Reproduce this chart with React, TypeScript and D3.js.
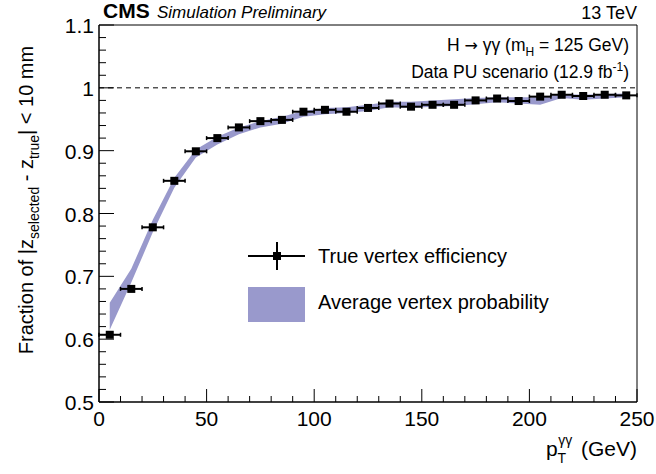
import * as d3 from "d3";
import * as React from "react";

// bin centres in pT (GeV)
const ptBins = [5, 15, 25, 35, 45, 55, 65, 75, 85, 95, 105, 115, 125, 135, 145, 155, 165, 175, 185, 195, 205, 215, 225, 235, 245];
// true vertex efficiency
const trueEff = [0.607, 0.68, 0.778, 0.852, 0.899, 0.92, 0.937, 0.947, 0.949, 0.962, 0.965, 0.962, 0.968, 0.975, 0.97, 0.973, 0.973, 0.98, 0.983, 0.979, 0.986, 0.989, 0.987, 0.989, 0.988];
const trueErr = [0.003, 0.003, 0.003, 0.003, 0.003, 0.002, 0.002, 0.002, 0.002, 0.002, 0.002, 0.002, 0.002, 0.002, 0.002, 0.002, 0.002, 0.002, 0.004, 0.002, 0.002, 0.002, 0.006, 0.005, 0.002];
// average vertex probability band
const bandLow = [0.615, 0.69, 0.77, 0.841, 0.889, 0.91, 0.926, 0.937, 0.943, 0.954, 0.958, 0.96, 0.963, 0.969, 0.968, 0.97, 0.971, 0.974, 0.977, 0.975, 0.973, 0.984, 0.981, 0.983, 0.985];
const bandHigh = [0.658, 0.712, 0.79, 0.857, 0.902, 0.922, 0.937, 0.947, 0.954, 0.963, 0.968, 0.969, 0.973, 0.978, 0.978, 0.98, 0.982, 0.984, 0.985, 0.985, 0.985, 0.99, 0.989, 0.99, 0.991];

const xTicks = [0, 50, 100, 150, 200, 250];
const yTicks = [0.5, 0.6, 0.7, 0.8, 0.9, 1, 1.1];

const FONT = "'Liberation Sans', Arial, Helvetica, sans-serif";
const BAND = "#9999cc";

export default function App() {
  const width = 656;
  const height = 474;
  const left = 99;
  const right = 637;
  const top = 25;
  const bottom = 402;

  const x = d3.scaleLinear().domain([0, 250]).range([left, right]);
  const y = d3.scaleLinear().domain([0.5, 1.1]).range([bottom, top]);

  const bandPts = ptBins.map((p, i) => ({ p, lo: bandLow[i], hi: bandHigh[i] }));
  const area = d3
    .area<{ p: number; lo: number; hi: number }>()
    .x((d) => x(d.p))
    .y0((d) => y(d.lo))
    .y1((d) => y(d.hi));

  const xMinor = d3.range(0, 251, 10);
  const yMinor = d3.range(0.5, 1.1001, 0.02);

  return (
    <svg width={width} height={height} style={{ position: "absolute", left: 0, top: 0 }} fontFamily={FONT}>
      <rect width={width} height={height} fill="white" />
      <path d={area(bandPts) || ""} fill={BAND} />

      {/* dashed line at 1 */}
      <line x1={left} x2={right} y1={y(1)} y2={y(1)} stroke="black" strokeWidth={1} strokeDasharray="5,4" />

      {/* data points */}
      {ptBins.map((p, i) => {
        const cx = x(p);
        const cy = y(trueEff[i]);
        return (
          <g key={p}>
            <line x1={x(p - 5)} x2={x(p + 5)} y1={cy} y2={cy} stroke="black" strokeWidth={2} />
            <line x1={x(p - 5)} x2={x(p - 5)} y1={cy - 2} y2={cy + 2} stroke="black" strokeWidth={1.5} />
            <line x1={x(p + 5)} x2={x(p + 5)} y1={cy - 2} y2={cy + 2} stroke="black" strokeWidth={1.5} />
            <line x1={cx} x2={cx} y1={y(trueEff[i] + trueErr[i])} y2={y(trueEff[i] - trueErr[i])} stroke="black" strokeWidth={2} />
            <rect x={cx - 4} y={cy - 4} width={8} height={8} fill="black" />
          </g>
        );
      })}

      {/* frame */}
      <line x1={left} x2={left} y1={top} y2={bottom} stroke="black" strokeWidth={1.5} />
      <line x1={left} x2={right} y1={bottom} y2={bottom} stroke="black" strokeWidth={1.5} />
      <line x1={left} x2={right} y1={top} y2={top} stroke="black" strokeWidth={1} />
      <line x1={right} x2={right} y1={top} y2={bottom} stroke="black" strokeWidth={1} />

      {/* x ticks */}
      {xMinor.map((v) => (
        <line key={"xm" + v} x1={x(v)} x2={x(v)} y1={bottom} y2={bottom - (v % 50 === 0 ? 13 : 6)} stroke="black" strokeWidth={1} />
      ))}
      {xTicks.map((v) => (
        <text key={"xl" + v} x={x(v)} y={bottom + 24} fontSize={21} textAnchor="middle">
          {v}
        </text>
      ))}

      {/* y ticks */}
      {yMinor.map((v, i) => (
        <line key={"ym" + i} x1={left} x2={left + (i % 5 === 0 ? 15 : 7)} y1={y(v)} y2={y(v)} stroke="black" strokeWidth={1} />
      ))}
      {yTicks.map((v) => (
        <text key={"yl" + v} x={left - 5} y={y(v) + 8} fontSize={21} textAnchor="end">
          {d3.format("~g")(v)}
        </text>
      ))}

      {/* axis titles */}
      <text x={right} y={456} fontSize={21} textAnchor="end">
        p
        <tspan fontSize={14} dy={7}>T</tspan>
        <tspan fontSize={14} dx={-8} dy={-18}>γγ</tspan>
        <tspan dy={11} dx={3}> (GeV)</tspan>
      </text>
      <text transform={`translate(33, 200) rotate(-90)`} fontSize={20} textAnchor="middle">
        Fraction of |z
        <tspan fontSize={14} dy={6}>selected</tspan>
        <tspan dy={-6}> - z</tspan>
        <tspan fontSize={14} dy={6}>true</tspan>
        <tspan dy={-6}>| &lt; 10 mm</tspan>
      </text>

      {/* header */}
      <text x={103} y={18} fontSize={21} fontWeight="bold">CMS</text>
      <text x={157} y={18} fontSize={17} fontStyle="italic">Simulation Preliminary</text>
      <text x={right} y={19} fontSize={18} textAnchor="end">13 TeV</text>

      {/* annotations */}
      <text x={629} y={51} fontSize={17.5} textAnchor="end">
        H <tspan fontFamily="'DejaVu Sans', sans-serif" fontSize={16}>→</tspan> γγ (m<tspan fontSize={12} dy={5}>H</tspan>
        <tspan dy={-5}> = 125 GeV)</tspan>
      </text>
      <text x={629} y={78} fontSize={17.5} textAnchor="end">
        Data PU scenario (12.9 fb<tspan fontSize={12} dy={-7}>-1</tspan>
        <tspan dy={7}>)</tspan>
      </text>

      {/* legend */}
      <line x1={248} x2={305} y1={256} y2={256} stroke="black" strokeWidth={2} />
      <line x1={277} x2={277} y1={242} y2={270} stroke="black" strokeWidth={2} />
      <rect x={273} y={252} width={8} height={8} fill="black" />
      <text x={318} y={263} fontSize={20}>True vertex efficiency</text>
      <rect x={248} y={287} width={57} height={35} fill={BAND} />
      <text x={318} y={309} fontSize={20}>Average vertex probability</text>
    </svg>
  );
}
